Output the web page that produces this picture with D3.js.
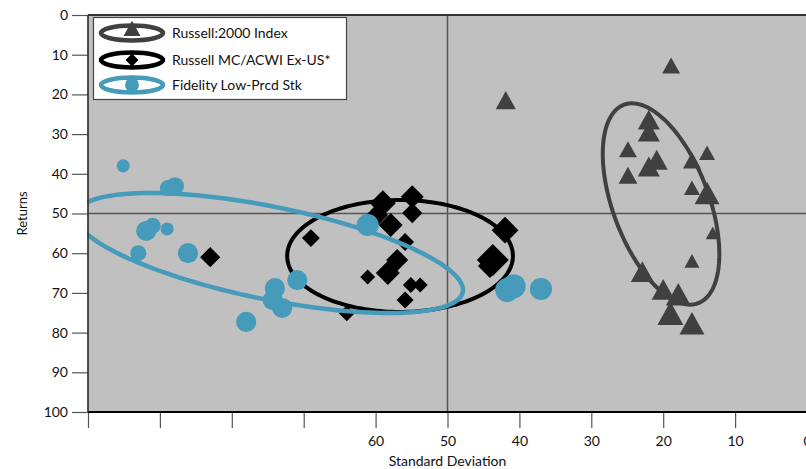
<!DOCTYPE html>
<html><head><meta charset="utf-8">
<script src="https://cdn.jsdelivr.net/npm/d3@7"></script>
<style>
body{margin:0;background:#fff}
text{font-family:Lato,"Open Sans",sans-serif}
</style>
</head><body>
<svg id="chart" width="806" height="469"></svg>
<script>
// ---------- data ----------
const xTicks = [100, 90, 80, 70, 60, 50, 40, 30, 20, 10, 0];
const xLabelled = [60, 50, 40, 30, 20, 10, 0];
const yTicks = [0, 10, 20, 30, 40, 50, 60, 70, 80, 90, 100];
const seriesNames = ["Russell:2000 Index", "Russell MC/ACWI Ex-US*", "Fidelity Low-Prcd Stk"];
const seriesColors = ["#404040", "#000000", "#459bb9"];

// Russell 2000 (triangles)
const r2kSD  = [18.9, 41.9, 22.0, 22.0, 24.9, 20.9, 22.0, 24.9, 16.0, 13.9, 16.0, 13.9, 13.1, 16.0, 22.9, 20.0, 17.9, 19.0, 16.0];
const r2kRet = [13.4, 22.2, 27.2, 30.2, 34.5, 37.3, 39.0, 41.1, 37.3, 35.3, 44.1, 45.8, 55.4, 62.5, 65.5, 70.0, 71.3, 76.1, 78.6];
const r2kWt  = [5.6, 6.3, 6.9, 6.9, 5.6, 6.9, 6.9, 5.9, 5.6, 5.0, 5.0, 7.8, 4.4, 4.7, 7.2, 7.2, 7.8, 8.1, 7.8];

// Russell MC / ACWI Ex-US (diamonds)
const mcSD  = [69.0, 83.0, 59.0, 59.8, 54.9, 54.9, 57.9, 55.9, 57.0, 58.3, 61.1, 55.1, 53.8, 55.9, 64.0, 42.0, 43.7, 44.1];
const mcRet = [56.2, 61.0, 47.4, 50.4, 45.8, 49.9, 52.9, 57.2, 61.7, 65.0, 66.0, 68.0, 68.0, 71.8, 75.1, 54.2, 61.7, 63.2];
const mcWt  = [5.6, 6.3, 8.1, 6.9, 7.2, 6.3, 7.5, 5.6, 6.9, 7.5, 4.7, 5.0, 4.7, 5.3, 5.0, 8.4, 10.0, 7.5];

// Fidelity Low-Priced Stock (circles)
const fidSD  = [95.1, 88.9, 87.9, 91.9, 91.0, 89.0, 93.0, 86.1, 74.0, 74.3, 73.0, 70.9, 78.0, 61.1, 41.7, 40.8, 37.0];
const fidRet = [38.0, 43.6, 43.1, 54.4, 53.1, 53.9, 60.0, 60.0, 68.8, 71.8, 73.8, 66.8, 77.3, 52.9, 69.3, 68.3, 69.0];
const fidWt  = [4.1, 5.0, 5.6, 6.3, 5.0, 4.1, 5.0, 6.3, 6.3, 6.3, 6.3, 6.3, 6.3, 6.9, 7.5, 7.5, 6.9];

// ellipses (data units): centre, first half-axis vector, second half-axis vector
const r2kCenter = [20.3, 47.6],  r2kAxisU = [-5.15, 25.0],  r2kAxisV = [6.26, 4.23];
const mcCenter  = [56.6, 60.7],  mcAxisU  = [15.7, 0],      mcAxisV  = [0, 14.1];
const fidCenter = [74.76, 59.95], fidAxisU = [-26.88, 9.87], fidAxisV = [1.28, 11.44];

// ---------- layout ----------
const svg = d3.select("#chart");
const M = {left: 88, top: 15, right: 807, bottom: 412};
const x = d3.scaleLinear().domain([100, 0]).range([M.left, M.right]);
const y = d3.scaleLinear().domain([0, 100]).range([M.top, M.bottom]);
const wScale = d3.scaleLinear().domain([0, 10]).range([0, 32]);

svg.append("defs").append("clipPath").attr("id", "plotclip")
  .append("rect").attr("x", M.left - 1).attr("y", M.top)
  .attr("width", M.right - M.left + 1).attr("height", M.bottom - M.top);

// background
svg.append("rect").attr("x", M.left).attr("y", M.top)
  .attr("width", M.right - M.left).attr("height", M.bottom - M.top)
  .attr("fill", "#c0c0c0");

// reference lines at 50
svg.append("line").attr("x1", x(50)).attr("x2", x(50)).attr("y1", y(0)).attr("y2", y(100))
  .attr("stroke", "#555").attr("stroke-width", 1.5);
svg.append("line").attr("x1", x(100)).attr("x2", x(0)).attr("y1", y(50)).attr("y2", y(50))
  .attr("stroke", "#555").attr("stroke-width", 1.5);

// axes
const xAxis = d3.axisBottom(x).tickValues(xTicks).tickSize(16).tickPadding(8)
  .tickFormat(d => xLabelled.includes(d) ? d : "");
const gx = svg.append("g").attr("transform", `translate(0,${M.bottom})`).call(xAxis);
gx.select(".domain").remove();
gx.selectAll(".tick line").attr("stroke", "#555").attr("stroke-width", 1.2);
gx.selectAll(".tick text").attr("font-size", 14).attr("fill", "#111");

const yAxis = d3.axisLeft(y).tickValues(yTicks).tickSize(16).tickPadding(4);
const gy = svg.append("g").attr("transform", `translate(${M.left},0)`).call(yAxis);
gy.select(".domain").remove();
gy.selectAll(".tick line").attr("stroke", "#555").attr("stroke-width", 1.2);
gy.selectAll(".tick text").attr("font-size", 14).attr("fill", "#111");

// frame lines
svg.append("line").attr("x1", M.left).attr("x2", M.right).attr("y1", M.top).attr("y2", M.top)
  .attr("stroke", "#333").attr("stroke-width", 2);
svg.append("line").attr("x1", M.left).attr("x2", M.right).attr("y1", M.bottom).attr("y2", M.bottom)
  .attr("stroke", "#000").attr("stroke-width", 2);

// axis titles
svg.append("text").attr("x", x(50)).attr("y", 466).attr("text-anchor", "middle")
  .attr("font-size", 14).attr("fill", "#111").text("Standard Deviation");
svg.append("text").attr("transform", `translate(27,${y(50)}) rotate(-90)`)
  .attr("text-anchor", "middle").attr("font-size", 13).attr("fill", "#111").text("Returns");

// ---------- helpers ----------
const plot = svg.append("g").attr("clip-path", "url(#plotclip)");
function ellipsePath(c, u, v) {
  const pts = d3.range(0, 360, 2).map(a => {
    const t = a * Math.PI / 180;
    return [x(c[0] + Math.cos(t) * u[0] + Math.sin(t) * v[0]),
            y(c[1] + Math.cos(t) * u[1] + Math.sin(t) * v[1])];
  });
  return d3.line().curve(d3.curveLinearClosed)(pts);
}
function triPath(w) {
  const h = w * 0.9;
  return `M0,${-h * 2 / 3}L${w / 2},${h / 3}L${-w / 2},${h / 3}Z`;
}
function diaPath(w) {
  const r = w / 2;
  return `M0,${-r}L${r},0L0,${r}L${-r},0Z`;
}

// Russell 2000
plot.append("path").attr("d", ellipsePath(r2kCenter, r2kAxisU, r2kAxisV))
  .attr("fill", "none").attr("stroke", seriesColors[0]).attr("stroke-width", 4);
plot.append("g").selectAll("path").data(d3.range(r2kSD.length)).join("path")
  .attr("transform", i => `translate(${x(r2kSD[i])},${y(r2kRet[i])})`)
  .attr("d", i => triPath(wScale(r2kWt[i]))).attr("fill", seriesColors[0]);

// Russell MC
plot.append("path").attr("d", ellipsePath(mcCenter, mcAxisU, mcAxisV))
  .attr("fill", "none").attr("stroke", seriesColors[1]).attr("stroke-width", 4);
plot.append("g").selectAll("path").data(d3.range(mcSD.length)).join("path")
  .attr("transform", i => `translate(${x(mcSD[i])},${y(mcRet[i])})`)
  .attr("d", i => diaPath(wScale(mcWt[i]))).attr("fill", seriesColors[1]);

// Fidelity
plot.append("path").attr("d", ellipsePath(fidCenter, fidAxisU, fidAxisV))
  .attr("fill", "none").attr("stroke", seriesColors[2]).attr("stroke-width", 4.5);
plot.append("g").selectAll("circle").data(d3.range(fidSD.length)).join("circle")
  .attr("cx", i => x(fidSD[i])).attr("cy", i => y(fidRet[i]))
  .attr("r", i => wScale(fidWt[i]) / 2).attr("fill", seriesColors[2]);

// left axis line on top of clipped marks
svg.append("line").attr("x1", M.left).attr("x2", M.left).attr("y1", M.top).attr("y2", M.bottom)
  .attr("stroke", "#333").attr("stroke-width", 2).attr("stroke-opacity", 0.85);

// ---------- legend ----------
const lg = svg.append("g");
lg.append("rect").attr("x", 93.5).attr("y", 17.5).attr("width", 253).attr("height", 82)
  .attr("fill", "#fff").attr("stroke", "#444").attr("stroke-width", 1.2);
const legY = [33, 60, 85];
seriesNames.forEach((name, i) => {
  const g = lg.append("g").attr("transform", `translate(132,${legY[i]})`);
  g.append("ellipse").attr("rx", 31).attr("ry", 7.5).attr("fill", "none")
    .attr("stroke", seriesColors[i]).attr("stroke-width", 4.5);
  if (i === 0) g.append("path").attr("d", triPath(17)).attr("transform", "translate(0,-2)").attr("fill", seriesColors[i]);
  if (i === 1) g.append("path").attr("d", diaPath(13)).attr("fill", seriesColors[i]);
  if (i === 2) g.append("circle").attr("r", 7).attr("fill", seriesColors[i]);
  lg.append("text").attr("x", 172).attr("y", legY[i] + 5).attr("font-size", 14)
    .attr("fill", "#111").text(name);
});
</script>
</body></html>
